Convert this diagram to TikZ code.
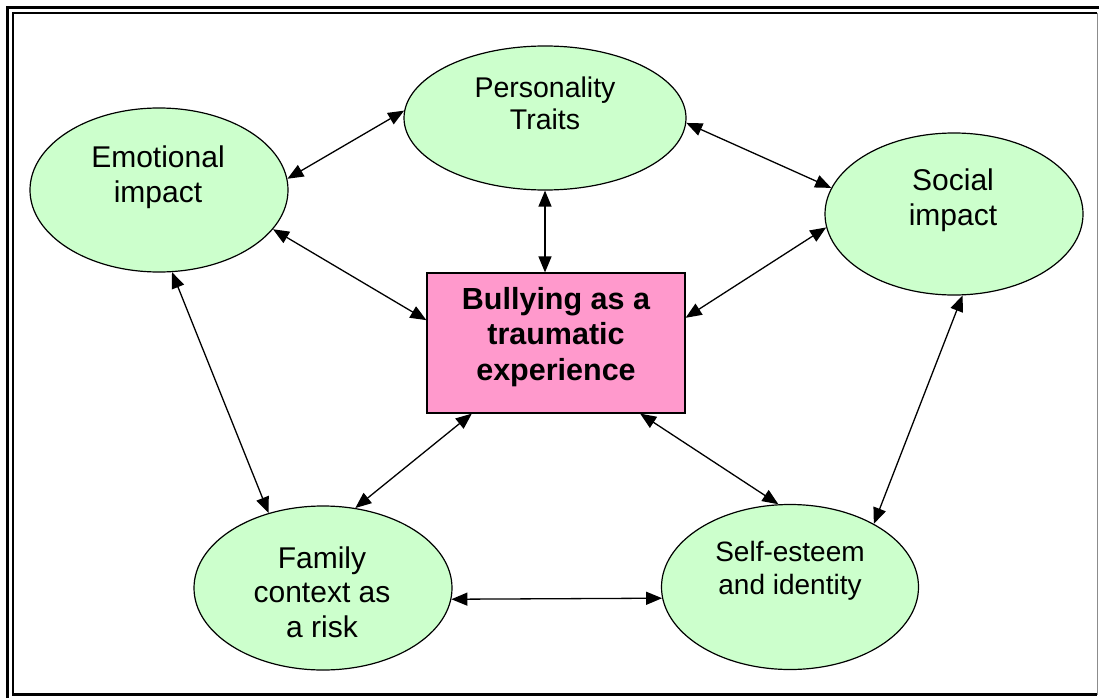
\documentclass[tikz,border=0pt]{standalone}
\usepackage{fontspec}
\setmainfont{Liberation Sans}
\usetikzlibrary{shapes.geometric,arrows.meta}
\definecolor{ellgreen}{HTML}{CCFFCC}
\definecolor{boxpink}{HTML}{FF99CC}
\begin{document}
\begin{tikzpicture}[x=1pt,y=-1pt,
  ell/.style={ellipse,draw=black,line width=1.2pt,fill=ellgreen,inner sep=0pt},
  txt/.style={align=center,inner sep=0pt,font=\fontsize{30}{34.5}\selectfont},
  link/.style={line width=1.3pt,{Triangle[length=16pt,width=13pt]}-{Triangle[length=16pt,width=13pt]}}]
\useasboundingbox (0,0) rectangle (1099,698);
% frame
\draw[line width=2.6pt] (7.5,698) -- (7.5,7.5) -- (1099,7.5);
\draw[line width=2.6pt] (1097,694.5) -- (13,694.5) -- (13,13) -- (1097,13);
\draw[line width=1.5pt,black!45] (1097.3,13) -- (1097.3,695);
% nodes
\node[ell,minimum width=258pt,minimum height=164pt] (emo) at (159,190) {};
\node[ell,minimum width=282pt,minimum height=144pt] (per) at (545,118) {};
\node[ell,minimum width=258pt,minimum height=162pt] (soc) at (954,214) {};
\node[ell,minimum width=258pt,minimum height=164pt] (fam) at (323,588) {};
\node[ell,minimum width=257pt,minimum height=165pt] (sel) at (790,587) {};
\node[draw=black,line width=1.2pt,fill=boxpink,minimum width=258pt,minimum height=140pt,inner sep=0pt] (bul) at (556,343) {};
% texts
\node[txt] (emoT) at (158,177) {Emotional\\impact};
\node[txt,font=\fontsize{28.5}{32}\selectfont] (perT) at (545,103) {Personality\\Traits};
\node[txt] (socT) at (953,200) {Social\\impact};
\node[txt] (famT) at (322,592) {Family\\context as\\a risk};
\node[txt,font=\fontsize{28}{33}\selectfont] (selT) at (790,571) {Self-esteem\\and identity};
\node[txt,font=\bfseries\fontsize{30.5}{35.5}\selectfont] (bulT) at (556,337) {Bullying as a\\traumatic\\experience};
% connectors
\draw[link] (emo.5) -- (per.177);
\draw[link] (emo.-19) -- (bul.170);
\draw[link] (emo.-81) -- (fam.126);
\draw[link] (per.south) -- (per.south |- bul.north);
\draw[link] (per.-2) -- (soc.168);
\draw[link] (soc.186) -- (bul.11);
\draw[link] (soc.-84) -- (sel.37);
\draw[link] (bul.220) -- (fam.68);
\draw[link] (bul.-40) -- (sel.98);
\draw[link] (fam.-5) -- (sel.185);
\end{tikzpicture}
\end{document}
